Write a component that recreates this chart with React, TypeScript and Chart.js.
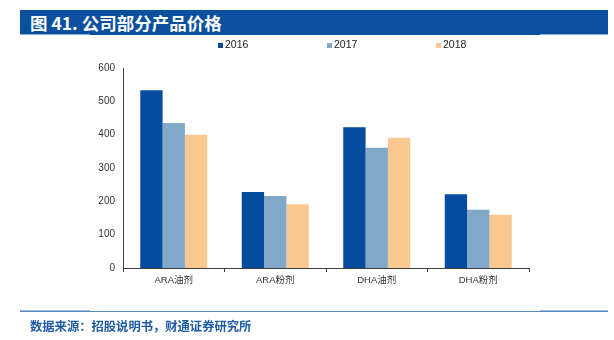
import React, { useEffect, useRef } from "react";
import { Chart, registerables } from "chart.js";

Chart.register(...registerables);

const categories = ["ARA油剂", "ARA粉剂", "DHA油剂", "DHA粉剂"];
const seriesNames = ["2016", "2017", "2018"];
const values2016 = [533, 228, 422, 221];
const values2017 = [435, 216, 361, 175];
const values2018 = [400, 191, 391, 160];
const yTicks = [0, 100, 200, 300, 400, 500, 600];
const colors = ["#054C9E", "#81A7C9", "#F9C891"];

const FONT = "'Liberation Sans', Arial, 'Noto Sans CJK SC', sans-serif";
const CJK = "'Noto Sans CJK SC', 'Microsoft YaHei', sans-serif";

const legendPlugin = {
  id: "customLegend",
  afterDraw(chart: any) {
    const ctx = chart.ctx;
    ctx.save();
    ctx.font = `10.5px ${FONT}`;
    ctx.textBaseline = "middle";
    chart.data.datasets.forEach((ds: any, i: number) => {
      const x = 218 + i * 109;
      const y = 45.5;
      ctx.fillStyle = ds.backgroundColor;
      ctx.fillRect(x, y - 2.5, 5, 5);
      ctx.fillStyle = "#222";
      ctx.fillText(ds.label, x + 7, y);
    });
    ctx.restore();
  },
};

export default function App() {
  const ref = useRef<HTMLCanvasElement>(null);
  useEffect(() => {
    const chart = new Chart(ref.current!, {
      type: "bar",
      data: {
        labels: categories,
        datasets: [values2016, values2017, values2018].map((v, i) => ({
          label: seriesNames[i],
          data: v,
          backgroundColor: colors[i],
          borderWidth: 0,
          categoryPercentage: 0.66,
          barPercentage: 1.0,
        })),
      },
      options: {
        responsive: false,
        animation: false,
        layout: { padding: { top: 68, left: 0, right: 85, bottom: 40 } },
        plugins: {
          legend: { display: false },
          tooltip: { enabled: false },
          title: { display: false },
        },
        scales: {
          x: {
            offset: true,
            grid: {
              display: true,
              drawOnChartArea: false,
              drawTicks: true,
              tickLength: 4,
              color: "#404040",
              offset: true,
            },
            border: { display: true, color: "#404040", width: 1 },
            ticks: { font: { size: 9.5, family: FONT }, color: "#333", padding: 3 },
            afterFit: (s: any) => {
              s.height = 32;
            },
          },
          y: {
            min: 0,
            max: 600,
            afterBuildTicks: (s: any) => {
              s.ticks = yTicks.map((v) => ({ value: v }));
            },
            grid: { display: false, drawTicks: false },
            border: { display: true, color: "#404040", width: 1 },
            ticks: { font: { size: 10, family: FONT }, color: "#333", padding: 8 },
            afterFit: (s: any) => {
              s.width = 123;
            },
          },
        },
      },
      plugins: [legendPlugin],
    });
    return () => chart.destroy();
  }, []);

  return (
    <div style={{ position: "fixed", left: 0, top: 0, width: 614, height: 340, background: "#fff", overflow: "hidden" }}>
      <div
        style={{
          position: "absolute",
          left: 20,
          top: 10,
          width: 588,
          height: 25,
          background: "#0B4F9F",
          color: "#fff",
          fontFamily: CJK,
          fontWeight: 600,
          fontSize: 17.5,
          lineHeight: "25px",
          paddingLeft: 10,
          boxSizing: "border-box",
        }}
      >
        图 41. 公司部分产品价格
      </div>
      <div style={{ position: "absolute", left: 20, top: 34, width: 70, height: 1, background: "#8DAEd6" }} />
      <div style={{ position: "absolute", left: 540, top: 34, width: 68, height: 1, background: "#8DAEd6" }} />
      <canvas ref={ref} width={614} height={340} style={{ position: "absolute", left: 0, top: 0 }} />
      <div style={{ position: "absolute", left: 20, top: 311, width: 588, height: 1, background: "#5A88C3" }} />
      <div style={{ position: "absolute", left: 20, top: 310, width: 70, height: 1, background: "#9DBBDD" }} />
      <div style={{ position: "absolute", left: 540, top: 310, width: 68, height: 1, background: "#9DBBDD" }} />
      <div
        style={{
          position: "absolute",
          left: 30,
          top: 317,
          height: 18,
          lineHeight: "18px",
          color: "#1F5CA8",
          fontFamily: CJK,
          fontWeight: "bold",
          fontSize: 12.3,
          whiteSpace: "nowrap",
        }}
      >
        数据来源：招股说明书，财通证券研究所
      </div>
    </div>
  );
}
